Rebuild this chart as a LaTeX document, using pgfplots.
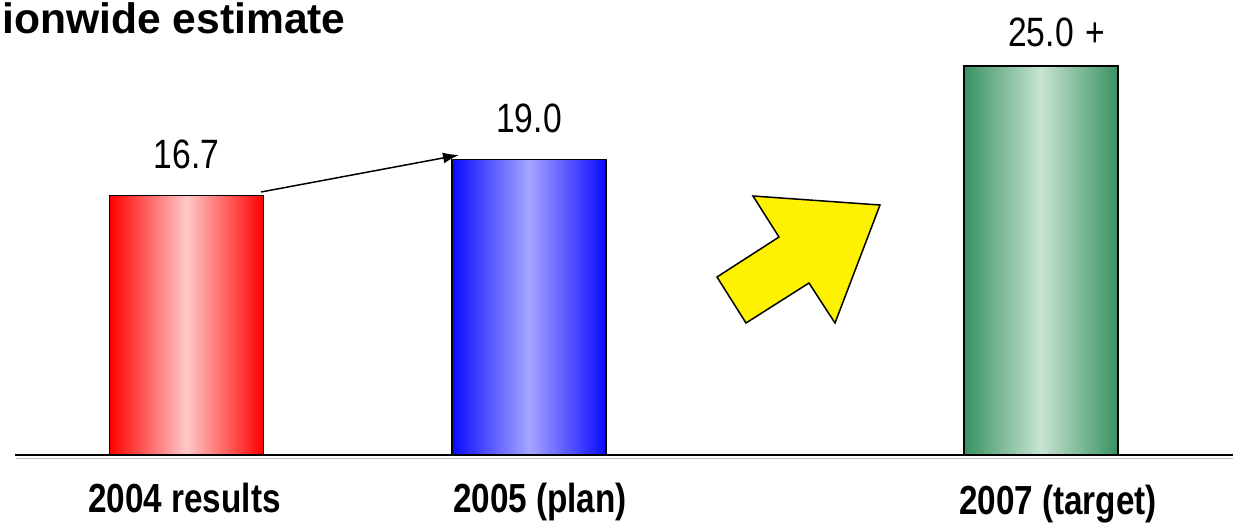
\documentclass[border=0pt]{standalone}
\usepackage{fontspec}
\setmainfont{Liberation Sans}
\newfontfamily\narrow[FakeStretch=0.82]{Liberation Sans}
\usepackage{pgfplots}
\pgfplotsset{compat=1.18}
\usetikzlibrary{arrows.meta}
\definecolor{redE}{RGB}{255,0,0}
\definecolor{redM}{RGB}{255,200,200}
\definecolor{bluE}{RGB}{10,10,255}
\definecolor{bluM}{RGB}{165,165,255}
\definecolor{grnE}{RGB}{55,145,95}
\definecolor{grnM}{RGB}{200,228,212}
\begin{document}
\begin{tikzpicture}
\begin{axis}[
  at={(7.5pt,-227.5pt)}, anchor=south west,
  scale only axis, width=609pt, height=227.5pt,
  xmin=-0.50073, xmax=3.05547, ymin=0, ymax=29.26,
  axis y line=none, axis x line*=bottom,
  x axis line style={line width=1pt,-},
  xtick={-0.0058,1.0321,2.5445},
  xticklabels={2004 results,2005 (plan),\raisebox{-1pt}{2007 (target)}},
  xtick style={draw=none}, major tick length=0pt,
  xticklabel style={anchor=base, yshift=-28.5pt, font=\narrow\bfseries\fontsize{20.3pt}{24pt}\selectfont},
  ytick=\empty,
  ybar, bar width=0.45, bar shift=0pt,
  clip=false,
  nodes near coords, point meta=explicit symbolic,
  nodes near coords style={anchor=base, font=\narrow\fontsize{20.5pt}{24pt}\selectfont, text=black},
]
\addplot[draw=black, line width=0.8pt, left color=redE, right color=redE, middle color=redM,
  postaction={draw=black, line width=0.8pt},
  nodes near coords style={yshift=13.5pt}] coordinates {(0,16.7) [16.7]};
\addplot[draw=black, line width=0.8pt, left color=bluE, right color=bluE, middle color=bluM,
  postaction={draw=black, line width=0.8pt},
  nodes near coords style={yshift=13.5pt}] coordinates {(1,19.0) [19.0]};
\addplot[draw=black, line width=0.8pt, left color=grnE, right color=grnE, middle color=grnM,
  postaction={draw=black, line width=0.8pt},
  nodes near coords style={yshift=10pt}] coordinates {(2.4949,25.0) [25.0\rlap{\hspace{0.3em}+}]};
\end{axis}
\begin{scope}[x=0.5pt,y=-0.5pt]
\draw[gray!50, line width=0.6pt] (16,458.5) -- (1233,458.5);
\draw[line width=0.75pt, -{Latex[length=8pt,width=5.5pt]}] (261,192) -- (459,155);
\draw[fill=yellow, line width=0.75pt, line join=miter] (753,196) -- (880,205) -- (835,323) -- (809,283) -- (746,323) -- (717,277) -- (779,237) -- cycle;
\node[anchor=base west, inner sep=0pt, font=\bfseries\fontsize{21.3pt}{25pt}\selectfont] at (2,33) {ionwide estimate};
\pgfresetboundingbox
\path[use as bounding box] (0,0) rectangle (1233,526);
\end{scope}
\end{tikzpicture}
\end{document}
